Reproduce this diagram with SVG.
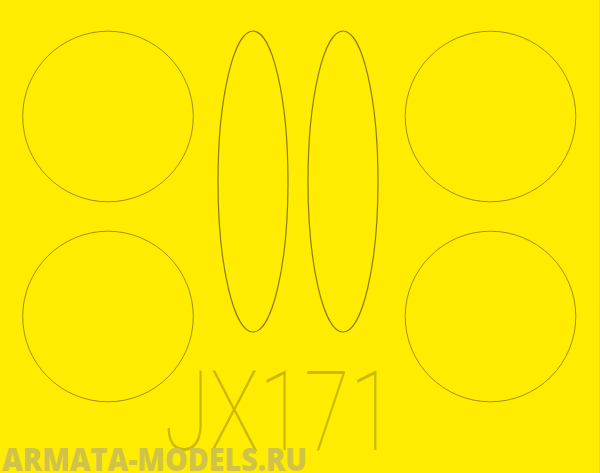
<svg xmlns="http://www.w3.org/2000/svg" width="600" height="473" viewBox="0 0 600 473">
<style>
.cut{fill:none;stroke:#a09000;stroke-width:1;}
.oval{fill:none;stroke:#8c7c00;stroke-width:1.2;}
.code{font-family:Roboto,"Liberation Sans",sans-serif;font-weight:100;font-size:112px;fill:#a89800;fill-opacity:0.6;}
.mark{font-family:"Open Sans","Liberation Sans",sans-serif;font-weight:800;font-size:31px;fill:#d0c34a;}
</style>
<rect x="0" y="0" width="600" height="473" fill="#ffec00"/>
<line x1="599.5" y1="0" x2="599.5" y2="473" stroke="#f2dc00" stroke-width="1"/>
<g id="circle-top-left"><circle class="cut" cx="108" cy="116.5" r="85.3"/></g>
<g id="circle-bottom-left"><circle class="cut" cx="108" cy="316.5" r="85.3"/></g>
<g id="circle-top-right"><circle class="cut" cx="490.5" cy="116.5" r="85.3"/></g>
<g id="circle-bottom-right"><circle class="cut" cx="490.5" cy="316.5" r="85.3"/></g>
<g id="oval-left"><ellipse class="oval" cx="253" cy="181.5" rx="35" ry="150.5"/></g>
<g id="oval-right"><ellipse class="oval" cx="343" cy="181.5" rx="35" ry="150.5"/></g>
<g id="code"><text class="code" x="164" y="450" textLength="231" lengthAdjust="spacingAndGlyphs">JX171</text></g>
<g id="watermark"><text class="mark" x="2" y="471" textLength="305" lengthAdjust="spacingAndGlyphs">ARMATA-MODELS.RU</text></g>
</svg>
